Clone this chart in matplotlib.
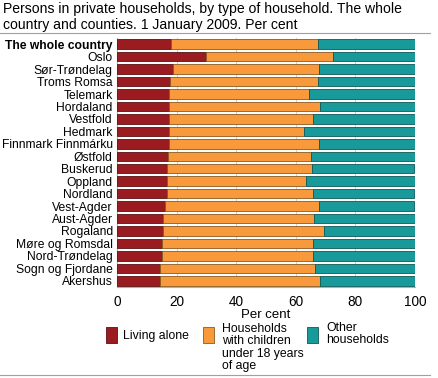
import matplotlib.pyplot as plt
import numpy as np
from matplotlib.patches import Rectangle
from matplotlib.lines import Line2D

regions = ['The whole country', 'Oslo', 'Sør-Trøndelag', 'Troms Romsa', 'Telemark',
           'Hordaland', 'Vestfold', 'Hedmark', 'Finnmark Finnmárku', 'Østfold',
           'Buskerud', 'Oppland', 'Nordland', 'Vest-Agder', 'Aust-Agder',
           'Rogaland', 'Møre og Romsdal', 'Nord-Trøndelag', 'Sogn og Fjordane', 'Akershus']
living_alone = [18.0, 29.8, 18.7, 17.7, 17.4, 17.4, 17.4, 17.4, 17.3, 17.0,
                16.7, 16.7, 16.7, 16.0, 15.6, 15.4, 15.2, 15.0, 14.4, 14.3]
with_children = [49.5, 42.7, 49.2, 49.9, 47.1, 50.8, 48.4, 45.5, 50.6, 48.0,
                 48.7, 46.7, 49.1, 51.9, 50.5, 54.1, 50.6, 50.8, 52.1, 53.9]
other = [32.5, 27.5, 32.1, 32.4, 35.5, 31.8, 34.2, 37.1, 32.1, 35.0,
         34.3, 36.6, 33.9, 31.8, 33.9, 30.5, 34.2, 34.2, 33.5, 31.8]
legend_labels = ['Living alone', 'Households\nwith children\nunder 18 years\nof age',
                 'Other\nhouseholds']
colors = ['#9b1c20', '#f89a3b', '#18999a']
edges = ['#5a1012', '#8a5a20', '#0c5a5a']

plt.rcParams['font.family'] = ['Liberation Sans', 'DejaVu Sans']

fig = plt.figure(figsize=(4.39, 3.78), dpi=100)
W, H = 439, 378
ax = fig.add_axes([117 / W, 1 - 287 / H, (415 - 117) / W, (287 - 38) / H])

y = np.arange(len(regions))
left = np.zeros(len(regions))
for vals, c, ec in zip([living_alone, with_children, other], colors, edges):
    ax.barh(y, vals, left=left, height=0.76, color=c, edgecolor=ec, linewidth=0.6, zorder=3)
    left += np.array(vals)

ax.set_ylim(len(regions) - 0.5, -0.5)
ax.set_xlim(0, 100)
ax.set_xticks([0, 20, 40, 60, 80, 100])
ax.tick_params(axis='x', length=0, labelsize=9.8, pad=6)
ax.tick_params(axis='y', length=0, labelsize=8.7, pad=3)
ax.set_yticks(y)
ax.set_yticklabels(regions)
ax.get_yticklabels()[0].set_fontweight('bold')
ax.set_xlabel('Per cent', fontsize=9.5, labelpad=0)
ax.grid(axis='x', color='#d0d0d0', linewidth=0.8, zorder=0)
for s in ['top', 'right']:
    ax.spines[s].set_visible(False)
ax.spines['left'].set_color('#b0b0b0')
ax.spines['bottom'].set_color('#b0b0b0')

fig.text(3 / W, 1 - 2 / H, 'Persons in private households, by type of household. The whole\n'
         'country and counties. 1 January 2009. Per cent',
         ha='left', va='top', fontsize=10.1, linespacing=1.15)
fig.add_artist(Line2D([0, 430 / W], [1 - 33 / H, 1 - 33 / H], color='#a0a0a0', linewidth=0.8))
fig.add_artist(Line2D([0, 430 / W], [1 - 375 / H, 1 - 375 / H], color='#a0a0a0', linewidth=0.8))

# legend
patch_x = [106, 203, 307]
text_x = [123, 222, 326]
text_top = [330, 323, 322]
for px, tx, ty, c, ec, lab in zip(patch_x, text_x, text_top, colors, edges, legend_labels):
    fig.add_artist(Rectangle((px / W, 1 - 343 / H), 11 / W, 16 / H, facecolor=c,
                             edgecolor=ec, linewidth=0.6, transform=fig.transFigure))
    fig.text(tx / W, 1 - ty / H, lab, ha='left', va='top', fontsize=8.8, linespacing=1.05)

fig.savefig('out.png', dpi=100)
